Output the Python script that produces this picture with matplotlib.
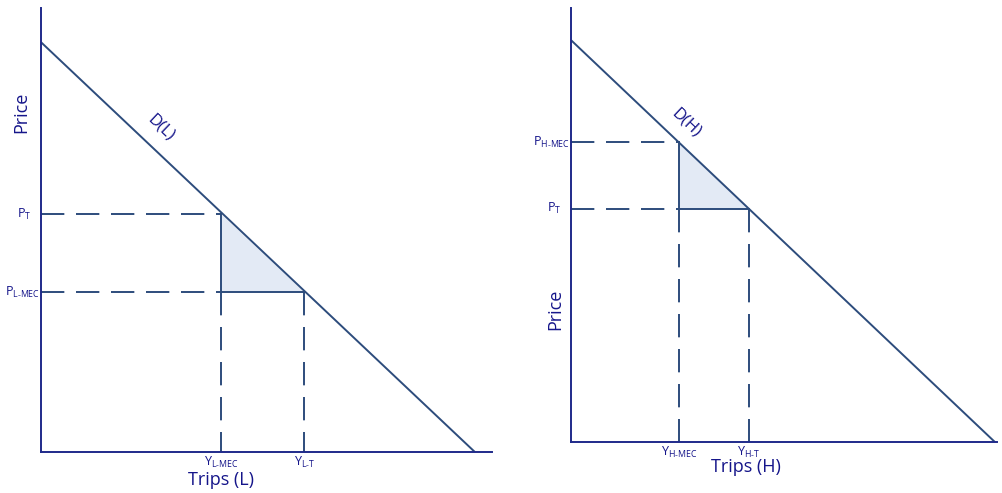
import matplotlib
matplotlib.use("Agg")
import matplotlib.pyplot as plt
from matplotlib.patches import Polygon

plt.rcParams["font.family"] = ["Open Sans", "DejaVu Sans"]
plt.rcParams["mathtext.fontset"] = "custom"
plt.rcParams["mathtext.rm"] = "Open Sans"
plt.rcParams["mathtext.it"] = "Open Sans"

# --- data (axis units 0..100) ---
# low-income panel
demand_L = [92.3, 96.2]          # price intercept, quantity intercept
prices_L = [53.6, 36.0]          # P_T, P_L-MEC
qty_L = [40.0, 58.4]             # Y_L-MEC, Y_L-T
price_labels_L = ["$\\mathregular{P_T}$", "$\\mathregular{P_{L\u2010MEC}}$"]
qty_labels_L = ["$\\mathregular{Y_{L\u2010MEC}}$", "$\\mathregular{Y_{L\u2010T}}$"]

# high-income panel
demand_H = [92.6, 99.5]
prices_H = [69.1, 53.7]          # P_H-MEC, P_T
qty_H = [25.4, 41.8]             # Y_H-MEC, Y_H-T
price_labels_H = ["$\\mathregular{P_{H\u2010MEC}}$", "$\\mathregular{P_T}$"]
qty_labels_H = ["$\\mathregular{Y_{H\u2010MEC}}$", "$\\mathregular{Y_{H\u2010T}}$"]

LINE = "#2d4c7c"
AXC = "#1f2a8a"
TXT = "#15158a"
FILL = "#e3eaf5"
DASH = (12, 6)

fig = plt.figure(figsize=(10.02, 4.93), dpi=100)
axL = fig.add_axes([41 / 1002, 41 / 493, 451 / 1002, 444 / 493])
axR = fig.add_axes([571 / 1002, 51 / 493, 426 / 1002, 434 / 493])


def panel(ax, demand, prices, qty, plabels, qlabels, dlabel, dpos):
    ax.set_xlim(0, 100)
    ax.set_ylim(0, 100)
    for s in ["top", "right"]:
        ax.spines[s].set_visible(False)
    for s in ["left", "bottom"]:
        ax.spines[s].set_color(AXC)
        ax.spines[s].set_linewidth(1.4)
    ax.set_xticks([])
    ax.set_yticks([])

    ax.plot([0, demand[1]], [demand[0], 0], color=LINE, lw=1.4, solid_capstyle="butt")

    p_hi, p_lo = max(prices), min(prices)
    q_lo, q_hi = min(qty), max(qty)

    # shaded triangle
    tri = Polygon([[q_lo, p_hi], [q_lo, p_lo], [q_hi, p_lo]], closed=True,
                  facecolor=FILL, edgecolor="none", zorder=1)
    ax.add_patch(tri)
    ax.plot([q_lo, q_lo], [p_hi, p_lo], color=LINE, lw=1.4, zorder=2)
    ax.plot([q_lo, q_hi], [p_lo, p_lo], color=LINE, lw=1.4, zorder=2)

    # dashed guides
    ax.plot([0, q_lo], [p_hi, p_hi], color=LINE, lw=1.4, dashes=DASH)
    ax.plot([0, q_lo], [p_lo, p_lo], color=LINE, lw=1.4, dashes=DASH)
    ax.plot([q_lo, q_lo], [p_lo, 0], color=LINE, lw=1.4, dashes=DASH)
    ax.plot([q_hi, q_hi], [p_lo, 0], color=LINE, lw=1.4, dashes=DASH)

    yt = ax.get_yaxis_transform()
    xt = ax.get_xaxis_transform()
    for p, lab in zip(prices, plabels):
        off = -0.022 if "\u2010" not in lab else -0.002
        ax.text(off, p, lab, transform=yt, ha="right", va="center",
                fontsize=9, color=TXT)
    for q, lab in zip(qty, qlabels):
        ax.text(q, -0.006, lab, transform=xt, ha="center", va="top",
                fontsize=9, color=TXT)

    ax.text(dpos[0], dpos[1], dlabel, ha="center", va="center", rotation=-43.5,
            fontsize=12, color=TXT)


panel(axL, demand_L, prices_L, qty_L, price_labels_L, qty_labels_L, "D(L)", (26.5, 73.0))
panel(axR, demand_H, prices_H, qty_H, price_labels_H, qty_labels_H, "D(H)", (27.0, 73.5))

axL.text(-0.043, 0.765, "Price", transform=axL.transAxes, rotation=90,
         ha="center", va="center", fontsize=13, color=TXT)
axL.text(0.40, -0.064, "Trips (L)", transform=axL.transAxes,
         ha="center", va="center", fontsize=13, color=TXT)
axR.text(-0.038, 0.305, "Price", transform=axR.transAxes, rotation=90,
         ha="center", va="center", fontsize=13, color=TXT)
axR.text(0.41, -0.058, "Trips (H)", transform=axR.transAxes,
         ha="center", va="center", fontsize=13, color=TXT)

fig.savefig("out.png", dpi=100)
